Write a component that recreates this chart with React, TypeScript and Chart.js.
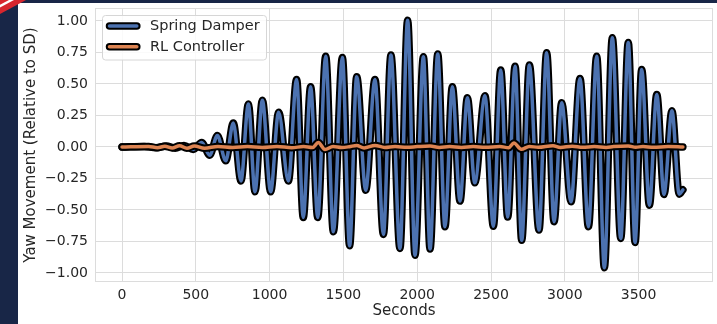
import React, { useEffect, useRef } from "react";
import { Chart, registerables } from "chart.js";

Chart.register(...registerables);

// ---------- data ----------
const sdTime = [
  0, 150, 230, 300, 360, 420, 483, 540, 594, 646, 703, 754, 806, 856, 901, 951, 1007, 1061, 1127, 1183,
  1228, 1278, 1326, 1380, 1432, 1493, 1542, 1590, 1651, 1714, 1771, 1822, 1883, 1935, 1985, 2042, 2087,
  2139, 2188, 2238, 2290, 2340, 2390, 2459, 2516, 2566, 2613, 2663, 2708, 2760, 2825, 2877, 2927, 2979,
  3042, 3103, 3160, 3216, 3268, 3322, 3379, 3430, 3476, 3521, 3573, 3623, 3672, 3726, 3775, 3800,
];
const sdValue = [
  0, 0.004, -0.006, 0.008, -0.01, 0.012, -0.02, 0.035, -0.065, 0.09, -0.11, 0.19, -0.27, 0.34, -0.356,
  0.37, -0.356, 0.276, -0.27, 0.536, -0.56, 0.478, -0.56, 0.72, -0.673, 0.71, -0.784, 0.557, -0.343,
  0.536, -0.694, 0.729, -0.806, 1.006, -0.859, 0.716, -0.81, 0.737, -0.633, 0.478, -0.43, 0.39, -0.285,
  0.406, -0.63, 0.61, -0.557, 0.641, -0.74, 0.65, -0.66, 0.748, -0.594, 0.35, -0.435, 0.544, -0.633,
  0.72, -0.959, 0.867, -0.726, 0.83, -0.758, 0.615, -0.462, 0.417, -0.377, 0.287, -0.375, -0.34,
];

const rlTime = [
  0, 180, 240, 290, 340, 390, 440, 490, 560, 650, 750, 850, 950, 1050, 1150, 1230, 1290, 1330, 1375,
  1430, 1490, 1540, 1590, 1640, 1714, 1780, 1850, 1930, 2000, 2087, 2150, 2220, 2300, 2380, 2460, 2560,
  2620, 2655, 2705, 2760, 2820, 2920, 2970, 3050, 3120, 3200, 3280, 3330, 3430, 3480, 3530, 3600, 3700,
  3800,
];
const rlValue = [
  0, 0.004, -0.006, 0.006, -0.008, 0.01, -0.01, 0.008, -0.01, 0.004, -0.004, 0.003, -0.004, 0.004,
  -0.006, 0.003, -0.005, 0.035, -0.02, 0.004, -0.004, 0.002, 0.012, -0.008, 0.012, -0.004, 0.004, -0.003,
  0.003, 0.008, -0.004, 0.003, -0.004, 0.003, -0.003, 0.003, -0.006, 0.032, -0.018, 0.004, -0.003, 0.01,
  -0.004, 0.006, -0.003, 0.003, -0.004, 0.003, 0.008, -0.003, 0.004, -0.003, 0.004, 0,
];

const xTicks = [0, 500, 1000, 1500, 2000, 2500, 3000, 3500];
const yTicks = [-1, -0.75, -0.5, -0.25, 0, 0.25, 0.5, 0.75, 1];

const seriesNames = ["Spring Damper", "RL Controller"];

// ---------- style ----------
const BLUE = "#4C72B0";
const ORANGE = "#DD8452";
const TEXT = "#262626";
const GRID = "#dcdcdc";
const FONT = "'DejaVu Sans', sans-serif";
const NAVY = "#182647";

const framePlugin = {
  id: "frame",
  beforeDatasetsDraw(chart: any) {
    const { ctx, chartArea: a } = chart;
    ctx.save();
    ctx.strokeStyle = GRID;
    ctx.lineWidth = 1;
    ctx.strokeRect(Math.round(a.left) + 0.5, Math.round(a.top) + 0.5, Math.round(a.right - a.left) - 1, Math.round(a.bottom - a.top) - 1);
    ctx.restore();
  },
};

const legendPlugin = {
  id: "innerLegend",
  afterDatasetsDraw(chart: any) {
    const { ctx, chartArea: a } = chart;
    const bx = a.left + 7.5;
    const by = a.top + 7.5;
    const bw = 164;
    const bh = 44.5;
    ctx.save();
    ctx.beginPath();
    const r = 3;
    ctx.moveTo(bx + r, by);
    ctx.arcTo(bx + bw, by, bx + bw, by + bh, r);
    ctx.arcTo(bx + bw, by + bh, bx, by + bh, r);
    ctx.arcTo(bx, by + bh, bx, by, r);
    ctx.arcTo(bx, by, bx + bw, by, r);
    ctx.closePath();
    ctx.fillStyle = "rgba(255,255,255,0.85)";
    ctx.fill();
    ctx.strokeStyle = "#d6d6d6";
    ctx.lineWidth = 1;
    ctx.stroke();

    const colors = [BLUE, ORANGE];
    seriesNames.forEach((name, i) => {
      const cy = by + 10.6 + i * 20.7;
      const x0 = bx + 7;
      const x1 = bx + 34.3;
      ctx.lineCap = "round";
      ctx.beginPath();
      ctx.moveTo(x0, cy);
      ctx.lineTo(x1, cy);
      ctx.strokeStyle = "#000";
      ctx.lineWidth = 7.5;
      ctx.stroke();
      ctx.beginPath();
      ctx.moveTo(x0, cy);
      ctx.lineTo(x1, cy);
      ctx.strokeStyle = colors[i];
      ctx.lineWidth = 3.5;
      ctx.stroke();
      ctx.fillStyle = TEXT;
      ctx.font = `14.5px ${FONT}`;
      ctx.textBaseline = "middle";
      ctx.textAlign = "left";
      ctx.fillText(name, bx + 47.5, cy + 0.5);
    });
    ctx.restore();
  },
};

export default function App() {
  const ref = useRef<HTMLCanvasElement | null>(null);

  useEffect(() => {
    const sdPts = sdTime.map((t, i) => ({ x: t, y: sdValue[i] }));
    const rlPts = rlTime.map((t, i) => ({ x: t, y: rlValue[i] }));
    const common = {
      pointRadius: 0,
      fill: false,
      cubicInterpolationMode: "monotone" as const,
      borderCapStyle: "round" as const,
      borderJoinStyle: "round" as const,
    };
    const chart = new Chart(ref.current!, {
      type: "line",
      data: {
        datasets: [
          { ...common, label: seriesNames[1], data: rlPts, borderColor: ORANGE, borderWidth: 3.5, order: 0 },
          { ...common, label: seriesNames[1] + " outline", data: rlPts, borderColor: "#000", borderWidth: 7.5, order: 1 },
          { ...common, label: seriesNames[0], data: sdPts, borderColor: BLUE, borderWidth: 3.5, order: 2 },
          { ...common, label: seriesNames[0] + " outline", data: sdPts, borderColor: "#000", borderWidth: 7.5, order: 3 },
        ],
      },
      options: {
        animation: false,
        responsive: false,
        devicePixelRatio: 1,
        layout: { autoPadding: false, padding: { top: 5, right: 4, left: 0, bottom: 0 } },
        plugins: { legend: { display: false }, tooltip: { enabled: false } },
        scales: {
          x: {
            type: "linear",
            min: -183,
            max: 4004,
            afterBuildTicks: (s: any) => {
              s.ticks = xTicks.map((v) => ({ value: v }));
            },
            afterFit: (s: any) => {
              s.height = 42;
              s.paddingLeft = 0;
              s.paddingRight = 0;
            },
            grid: { color: GRID, lineWidth: 1, drawTicks: false },
            border: { display: false },
            ticks: {
              color: TEXT,
              font: { family: FONT, size: 14 },
              padding: 5,
              maxRotation: 0,
              callback: (v: any) => String(v),
            },
            title: { display: true, text: "Seconds", color: TEXT, font: { family: FONT, size: 15 } },
          },
          y: {
            type: "linear",
            min: -1.072,
            max: 1.103,
            afterBuildTicks: (s: any) => {
              s.ticks = yTicks.map((v) => ({ value: v }));
            },
            afterFit: (s: any) => {
              s.width = 77;
              s.paddingTop = 0;
              s.paddingBottom = 0;
            },
            grid: { color: GRID, lineWidth: 1, drawTicks: false },
            border: { display: false },
            ticks: {
              color: TEXT,
              font: { family: FONT, size: 14 },
              padding: 7,
              callback: (v: any) => (v < 0 ? "\u2212" : "") + Math.abs(Number(v)).toFixed(2),
            },
            title: {
              display: true,
              text: "Yaw Movement (Relative to SD)",
              color: TEXT,
              font: { family: FONT, size: 15 },
            },
          },
        },
      },
      plugins: [framePlugin, legendPlugin],
    } as any);
    return () => chart.destroy();
  }, []);

  return (
    <div style={{ position: "fixed", left: 0, top: 0, width: 717, height: 324, background: NAVY, overflow: "hidden" }}>
      <div style={{ position: "absolute", left: 18, top: 3, width: 699, height: 321, background: "#ffffff" }}>
        <canvas ref={ref} width={699} height={321} style={{ display: "block", width: 699, height: 321 }} />
      </div>
      <svg width={30} height={16} style={{ position: "absolute", left: 0, top: 0 }}>
        <polygon points="0,0 26,0 0,14" fill="#d7262e" />
        <polygon points="9,0 14,0 0,7.5 0,4.8" fill="#ffffff" />
      </svg>
    </div>
  );
}
